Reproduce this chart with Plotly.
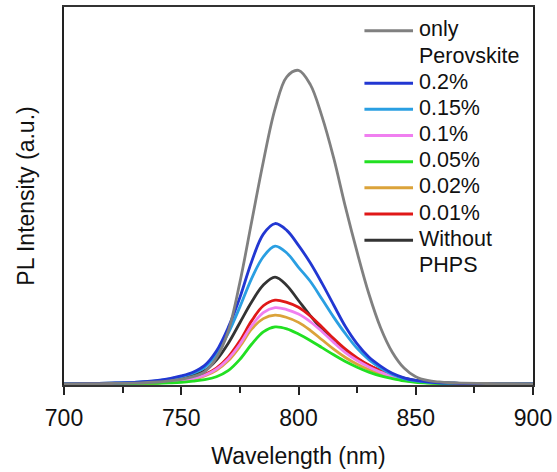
import plotly.graph_objects as go

# Wavelength grid (nm)
wavelength = [700, 710, 720, 730, 740, 745, 750, 755, 760, 765, 770, 775, 780, 785,
              790, 795, 800, 805, 810, 815, 820, 825, 830, 835, 840, 845, 850, 855,
              860, 865, 870, 880, 890, 900]

# PL intensity (a.u.) for each sample
only_perovskite = [0.1, 0.15, 0.2, 0.3, 0.6, 0.9, 1.3, 2.0, 3.3, 7.0, 14.0, 27.0, 43.0, 59.0,
                   73.0, 81.5, 83.2, 79.5, 71.0, 60.0, 47.0, 35.0, 24.0, 15.0, 8.5, 4.3, 2.0, 1.0,
                   0.6, 0.4, 0.3, 0.2, 0.15, 0.1]
phps_0_2 = [0.1, 0.2, 0.3, 0.5, 1.0, 1.5, 2.2, 3.2, 5.0, 8.8, 15.0, 23.0, 32.5, 39.8,
            42.6, 40.8, 36.8, 32.2, 26.8, 21.0, 15.3, 10.7, 7.2, 4.8, 2.9, 1.7, 1.0, 0.6,
            0.4, 0.3, 0.2, 0.15, 0.1, 0.1]
phps_0_15 = [0.1, 0.2, 0.3, 0.5, 0.9, 1.4, 2.0, 2.9, 4.5, 8.0, 13.5, 20.5, 28.0, 33.8,
             36.6, 34.8, 31.0, 27.3, 22.6, 17.8, 13.4, 9.5, 6.5, 4.3, 2.6, 1.5, 0.9, 0.6,
             0.4, 0.3, 0.2, 0.15, 0.1, 0.1]
phps_0_1 = [0.1, 0.15, 0.2, 0.3, 0.5, 0.7, 1.0, 1.5, 2.4, 4.0, 6.7, 10.6, 15.5, 19.0,
            20.3, 19.8, 18.6, 16.6, 14.0, 11.1, 8.4, 6.3, 4.6, 3.2, 2.0, 1.2, 0.7, 0.5,
            0.3, 0.2, 0.2, 0.1, 0.1, 0.1]
phps_0_05 = [0.1, 0.1, 0.15, 0.2, 0.25, 0.35, 0.5, 0.8, 1.2, 2.0, 3.6, 6.6, 10.6, 13.9,
             15.2, 14.7, 13.3, 11.6, 9.7, 7.8, 6.0, 4.5, 3.2, 2.2, 1.5, 0.9, 0.5, 0.3,
             0.2, 0.2, 0.1, 0.1, 0.1, 0.1]
phps_0_02 = [0.1, 0.15, 0.2, 0.3, 0.4, 0.6, 0.9, 1.3, 2.2, 3.7, 6.2, 10.0, 14.6, 17.4,
             18.3, 17.7, 16.4, 14.3, 11.8, 9.3, 7.1, 5.3, 3.9, 2.8, 1.8, 1.1, 0.6, 0.4,
             0.3, 0.2, 0.2, 0.1, 0.1, 0.1]
phps_0_01 = [0.1, 0.15, 0.2, 0.3, 0.4, 0.7, 1.0, 1.5, 2.6, 4.3, 7.2, 11.5, 16.8, 20.8,
             22.3, 21.7, 20.4, 18.1, 15.2, 12.1, 9.3, 7.0, 5.1, 3.6, 2.2, 1.3, 0.8, 0.5,
             0.3, 0.2, 0.2, 0.1, 0.1, 0.1]
without_phps = [0.1, 0.2, 0.3, 0.4, 0.8, 1.2, 1.8, 2.5, 3.6, 6.4, 10.8, 16.3, 21.8, 26.3,
                28.4, 26.2, 22.2, 18.2, 14.5, 11.4, 8.8, 6.8, 5.0, 3.7, 2.6, 1.6, 1.0, 0.6,
                0.4, 0.3, 0.2, 0.15, 0.1, 0.1]

labels = ["only<br>Perovskite", "0.2%", "0.15%", "0.1%", "0.05%", "0.02%", "0.01%",
          "Without<br>PHPS"]
series = [only_perovskite, phps_0_2, phps_0_15, phps_0_1, phps_0_05, phps_0_02,
          phps_0_01, without_phps]
colors = ["#808080", "#2237d2", "#2a9fe2", "#f07ff0", "#22e022", "#dba33a",
          "#e01818", "#333333"]

x_ticks = [700, 750, 800, 850, 900]
x_minor = [725, 775, 825, 875]

FONT = "Arial, 'Liberation Sans', sans-serif"

fig = go.Figure()

# draw the curves (gray reference drawn last so it sits on top)
draw_order = [7, 6, 5, 3, 4, 2, 1, 0]
for i in draw_order:
    fig.add_trace(go.Scatter(
        x=wavelength, y=series[i], mode="lines",
        line=dict(color=colors[i], width=2.8, shape="spline", smoothing=1.0),
        name=labels[i].replace("<br>", " "), showlegend=False,
    ))

# hand-built legend in the upper right corner
L, R, T, B = 64, 537, 5, 385          # plot area in pixels
W, H = R - L, B - T
row_y0, row_dy = 27.5, 26.3
line_x0, line_x1, text_x = 367, 416, 420
row = 0
for lab, col in zip(labels, colors):
    y_px = row_y0 + row_dy * row
    yp = (B - (y_px + 1.5)) / H
    fig.add_shape(type="line", xref="paper", yref="paper",
                  x0=(line_x0 - L) / W, x1=(line_x1 - L) / W, y0=yp, y1=yp,
                  line=dict(color=col, width=3))
    for k, part in enumerate(lab.split("<br>")):
        yk = (B - (y_px + row_dy * k)) / H
        fig.add_annotation(x=(text_x - L) / W, y=yk, xref="paper", yref="paper",
                           text=part, showarrow=False, xanchor="left", yanchor="middle",
                           font=dict(family=FONT, size=21.5, color="#111111"))
    row += len(lab.split("<br>"))

fig.update_layout(
    width=557, height=472,
    margin=dict(l=L, r=557 - R, t=T, b=472 - B),
    plot_bgcolor="white", paper_bgcolor="white",
    font=dict(family=FONT, color="#111111"),
    xaxis=dict(
        range=[700, 900], tickvals=x_ticks, ticks="outside", ticklen=8, tickwidth=1.5,
        tickcolor="#222222", tickfont=dict(size=23), ticklabelstandoff=3,
        minor=dict(tickvals=x_minor, ticks="outside", ticklen=6,
                   tickwidth=1.5, tickcolor="#222222"),
        showline=True, linecolor="#333333", linewidth=2, mirror=True,
        showgrid=False, zeroline=False,
        title=dict(text="Wavelength (nm)", font=dict(size=23), standoff=18),
    ),
    yaxis=dict(
        range=[-0.2, 100], showticklabels=False, ticks="",
        showline=True, linecolor="#222222", linewidth=1.5, mirror=True,
        showgrid=False, zeroline=False,
        title=dict(text="PL Intensity (a.u.)", font=dict(size=23), standoff=21),
    ),
)

fig.write_html("out.html")
